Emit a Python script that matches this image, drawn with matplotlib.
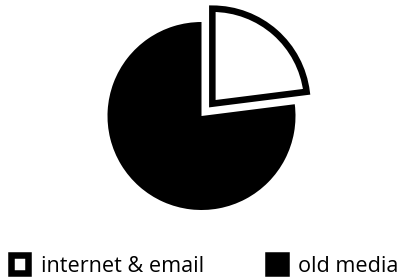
import matplotlib
matplotlib.use("Agg")
import matplotlib.pyplot as plt

labels = ["internet & email", "old media"]
values = [23, 77]
colors = ["white", "black"]
explode = [0.164, 0.0]

plt.rcParams['font.family'] = ['Open Sans', 'DejaVu Sans']

W, H = 407, 279
fig = plt.figure(figsize=(W / 100, H / 100), dpi=100)
cx, cy = 201.5, H - 116
half = 120
ax = fig.add_axes([(cx - half) / W, (cy - half) / H, 2 * half / W, 2 * half / H])

wedges, _ = ax.pie(values, colors=colors, explode=explode, radius=0.94,
                   startangle=90, counterclock=False,
                   wedgeprops=dict(linewidth=0))
wedges[0].set_edgecolor("black")
wedges[0].set_linewidth(4.7)
wedges[0].set_joinstyle("miter")
wedges[0].set_radius(0.95)
ax.set_xlim(-1.2, 1.2)
ax.set_ylim(-1.2, 1.2)
ax.set_aspect("equal")
ax.axis("off")

fs = 15.6
hl = 0.82
hh = (hl - 0.245) / 0.65
leg = fig.legend(wedges, labels, ncol=2, loc="center left",
                 bbox_to_anchor=(10.5 / W, 13 / H), frameon=False,
                 fontsize=fs, handlelength=hl, handleheight=hh,
                 handletextpad=0.58, columnspacing=2.95, borderpad=0,
                 borderaxespad=0)
for p in leg.get_patches():
    p.set_edgecolor("black")
    p.set_linewidth(4.7)
    p.set_joinstyle("miter")

fig.savefig("out.png", dpi=100)
